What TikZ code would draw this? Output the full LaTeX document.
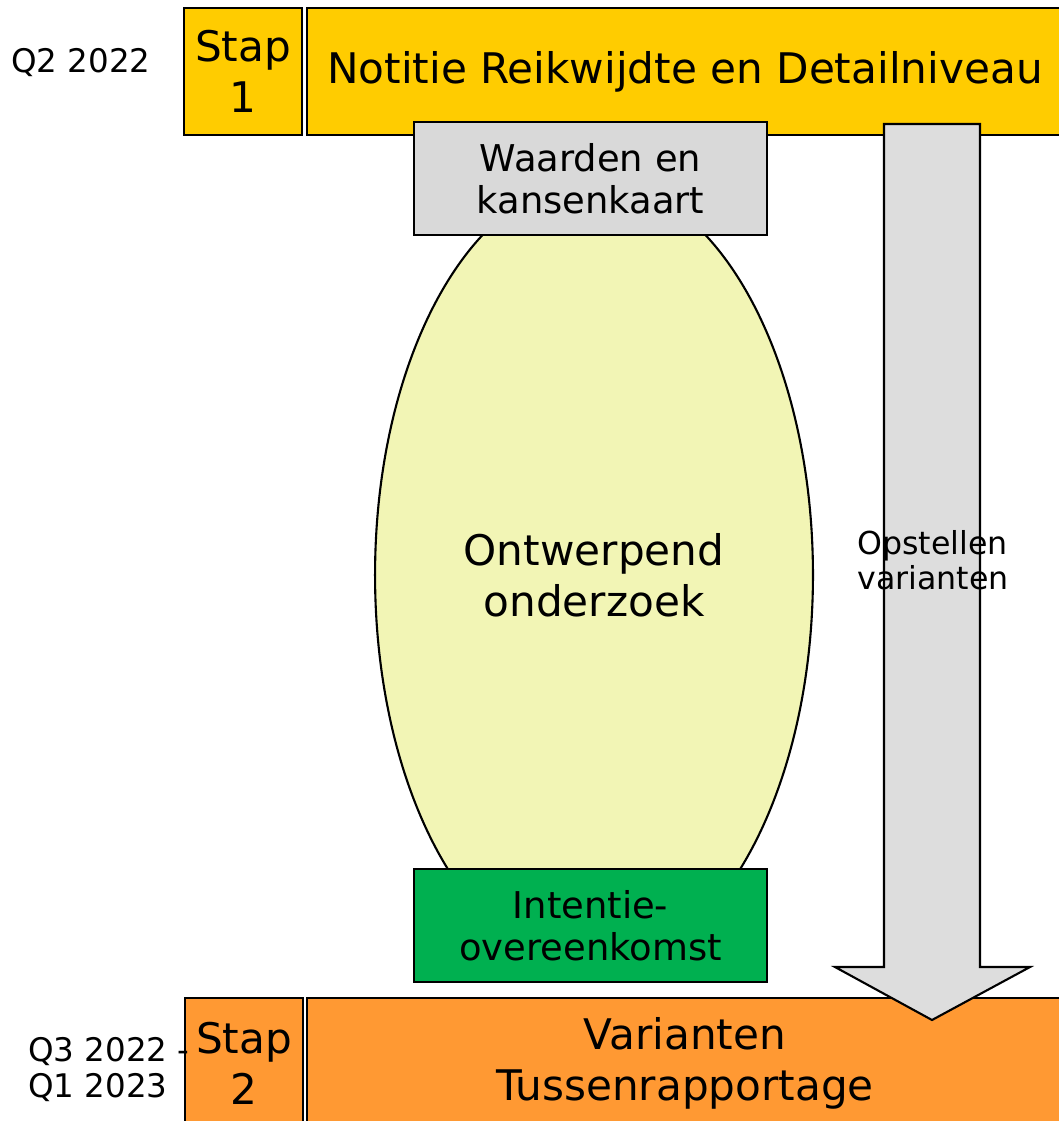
\documentclass[tikz,border=0pt]{standalone}
\usepackage{fontspec}
\setmainfont{DejaVu Sans}
\usepackage{xcolor}
\usetikzlibrary{shapes.geometric}
\definecolor{Geel}{RGB}{255, 204, 0}
\definecolor{Oranje}{RGB}{255, 153, 51}
\definecolor{Grijs}{RGB}{217, 217, 217}
\definecolor{Groen}{RGB}{0, 176, 80}
\definecolor{LichtGeel}{RGB}{242, 245, 181}
\definecolor{PijlGrijs}{RGB}{221, 221, 221}

\begin{document}
\begin{tikzpicture}[x=0.02cm, y=-0.02cm,
    blok/.style={draw=black, line width=1.2pt, align=center, inner sep=0pt},
    groot/.style={font=\fontsize{24}{29}\selectfont},
    middel/.style={font=\fontsize{21}{24}\selectfont},
    klein/.style={font=\fontsize{18.5}{20.5}\selectfont}]
            \useasboundingbox (0,0) rectangle (1058,1121);
            %Stap 1
            \node[blok, groot, fill=Geel, minimum width=2.36cm, minimum height=2.54cm] (stap1) at (243,71.5) {Stap\\1};
            \node[blok, groot, fill=Geel, minimum width=15.12cm, minimum height=2.54cm] (notitie) at (685,71.5) {Notitie Reikwijdte en Detailniveau};
            \node[klein] (q2) at (81,63) {Q2 2022};
            %Ontwerpend onderzoek
            \node[ellipse, draw, line width=1.2pt, fill=LichtGeel, groot, align=center, inner sep=0pt, minimum width=8.76cm, minimum height=15.8cm] (ontwerp) at (594,575) {Ontwerpend\\onderzoek};
            \node[blok, middel, fill=Grijs, minimum width=7.06cm, minimum height=2.26cm] (waarden) at (590.5,178.5) {Waarden en\\kansenkaart};
            \node[blok, middel, fill=Groen, minimum width=7.06cm, minimum height=2.26cm] (intentie) at (590.5,925.5) {Intentie-\\overeenkomst};
            %Stap 2
            \node[blok, groot, fill=Oranje, minimum width=2.36cm, minimum height=2.6cm] (stap2) at (244,1063) {Stap\\2};
            \node[blok, groot, fill=Oranje, minimum width=15.12cm, minimum height=2.6cm] (varianten) at (685,1063) {Varianten\\Tussenrapportage};
            \node[klein, anchor=west, align=left] (q3) at (22,1070) {Q3 2022 -\\Q1 2023};
            %Pijl
            \draw[line width=1.2pt, fill=PijlGrijs] (884,124) -- (980,124) -- (980,967) -- (1030,967) -- (932,1020) -- (835,967) -- (884,967) -- cycle;
            \node[align=left, font=\fontsize{18}{20}\selectfont] (opstellen) at (933,560) {Opstellen\\varianten};
        \end{tikzpicture}
\end{document}
